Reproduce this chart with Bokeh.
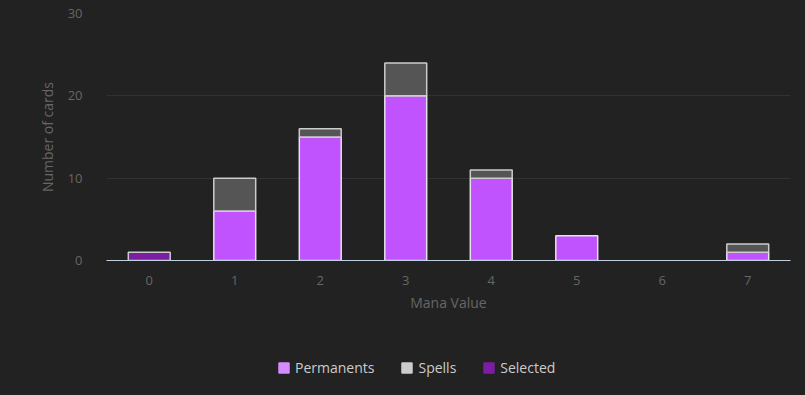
import numpy as np
from bokeh.plotting import figure
from bokeh.layouts import column
from bokeh.models import ColumnDataSource, Legend, LegendItem, FixedTicker, Range1d
from bokeh.embed import file_html
from bokeh.resources import INLINE

# ---- data ----
mana_values = [0, 1, 2, 3, 4, 5, 6, 7]
permanents = [0, 6, 15, 20, 10, 3, 0, 1]
spells = [0, 4, 1, 4, 1, 0, 0, 1]
selected = [1, 0, 0, 0, 0, 0, 0, 0]
y_ticks = [0, 10, 20, 30]
series_names = ["Permanents", "Spells", "Selected"]

BG = "#222222"
FONT = "Open Sans"

p = figure(frame_width=684, frame_height=247, output_backend="svg", toolbar_location=None,
           x_range=Range1d(-0.5, 7.5), y_range=Range1d(0, 30),
           background_fill_color=BG, border_fill_color=BG,
           min_border_left=106, min_border_right=15, min_border_top=13,
           min_border_bottom=80)
p.outline_line_color = None

# stacks
x = np.array(mana_values, dtype=float)
perm = np.array(permanents, dtype=float)
spl = np.array(spells, dtype=float)
sel = np.array(selected, dtype=float)
layers = [
    (perm, np.zeros_like(perm), "#c153ff", "#e4e4e4"),
    (spl, perm, "#555555", "#cccccc"),
    (sel, perm + spl, "#7b1fa2", "#cccccc"),
]
for vals, bottom, fill, line in layers:
    m = vals > 0
    src = ColumnDataSource(dict(x=x[m], bottom=bottom[m], top=(bottom + vals)[m]))
    p.vbar(x="x", bottom="bottom", top="top", width=0.49, source=src,
           fill_color=fill, line_color=line, line_width=1.5)

# grid
p.xgrid.grid_line_color = None
p.ygrid.grid_line_color = "#323232"
p.ygrid.ticker = FixedTicker(ticks=y_ticks)

# y axis
ya = p.yaxis[0]
ya.ticker = FixedTicker(ticks=y_ticks)
ya.axis_line_color = None
ya.major_tick_line_color = None
ya.minor_tick_line_color = None
ya.major_label_text_color = "#666666"
ya.major_label_text_font = FONT
ya.major_label_text_font_size = "13px"
ya.major_label_standoff = 18
ya.axis_label = "Number of cards"
ya.axis_label_text_color = "#666666"
ya.axis_label_text_font = FONT
ya.axis_label_text_font_size = "14px"
ya.axis_label_text_font_style = "normal"
ya.axis_label_standoff = 8

# x axis
xa = p.xaxis[0]
xa.ticker = FixedTicker(ticks=mana_values)
xa.axis_line_color = "#c0d0e0"
xa.axis_line_width = 1
xa.major_tick_line_color = None
xa.minor_tick_line_color = None
xa.major_label_text_color = "#666666"
xa.major_label_text_font = FONT
xa.major_label_text_font_size = "13px"
xa.major_label_standoff = 9
xa.axis_label = "Mana Value"
xa.axis_label_text_color = "#666666"
xa.axis_label_text_font = FONT
xa.axis_label_text_font_size = "14px"
xa.axis_label_text_font_style = "normal"
xa.axis_label_standoff = 5

# legend strip below the chart
lf = figure(width=805, height=55, output_backend="svg", toolbar_location=None,
            x_range=Range1d(0, 1), y_range=Range1d(0, 1),
            background_fill_color=BG, border_fill_color=BG,
            min_border=0, x_axis_type=None, y_axis_type=None)
lf.outline_line_color = None
lf.xgrid.grid_line_color = None
lf.ygrid.grid_line_color = None

legend_colors = ["#d58aff", "#cccccc", "#7b1fa2"]
items = []
for name, c in zip(series_names, legend_colors):
    src = ColumnDataSource(dict(x=[float("nan")], top=[float("nan")]))
    r = lf.vbar(x="x", top="top", width=0.5, source=src, fill_color=c, line_color=c)
    items.append(LegendItem(label=name, renderers=[r]))
legend = Legend(items=items, orientation="horizontal", location=(171, 18),
                background_fill_alpha=0, border_line_color=None,
                label_text_color="#cccccc", label_text_font=FONT,
                label_text_font_size="14px", glyph_width=13, glyph_height=13,
                label_standoff=5, spacing=26, margin=0, padding=0)
lf.add_layout(legend, "center")

layout = column(p, lf, spacing=0, background=BG)

html = file_html(layout, INLINE)
html = html.replace("<head>", "<head><style>body{background:#222222;}</style>", 1)
open("out.html", "w").write(html)
